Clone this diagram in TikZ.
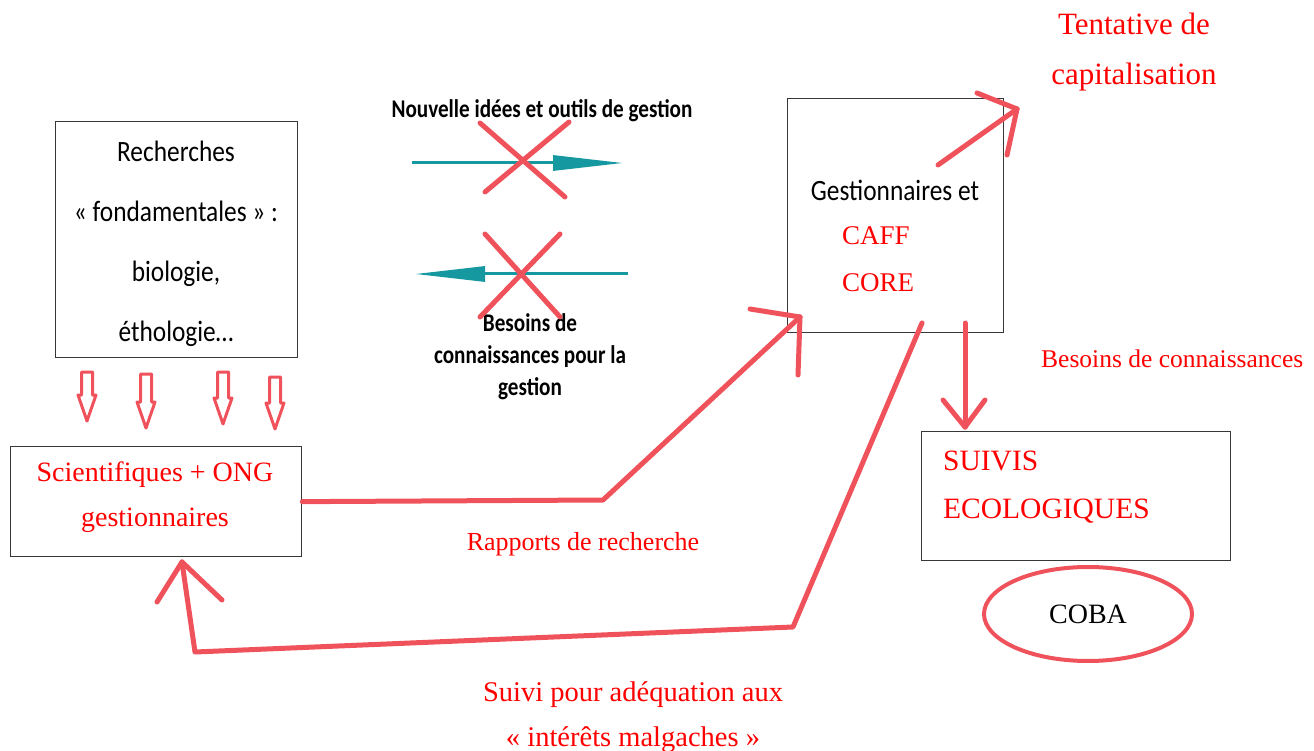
\documentclass[tikz,border=0pt]{standalone}
\usepackage{graphicx}
\usepackage{fontspec}
\setmainfont{Liberation Serif}
\newfontfamily\calibrifont{Carlito}
\usetikzlibrary{arrows.meta,shapes.geometric}
\definecolor{penred}{RGB}{240,82,92}
\definecolor{textred}{RGB}{255,0,0}
\definecolor{tealline}{RGB}{22,152,160}
\definecolor{boxline}{RGB}{55,55,55}
\newcommand{\fs}[1]{\fontsize{#1}{#1}\selectfont}
% narrow sans labels
\newcommand{\narrow}[1]{\scalebox{0.86}[1]{#1}}
\newcommand{\narrowb}[1]{\scalebox{0.83}[1]{#1}}
\tikzset{
  box/.style={draw=boxline, line width=1.3pt, inner sep=0pt, anchor=north west},
  pen/.style={draw=penred, line width=5pt, line cap=round, line join=round},
  thinpen/.style={draw=penred, line width=3pt, line join=round},
  redtxt/.style={text=textred, inner sep=0pt, anchor=base},
  blacktxt/.style={text=black, inner sep=0pt, anchor=base},
  tealarrow/.style={draw=tealline, line width=3pt, -{Triangle[length=70pt,width=15pt]}},
  hollowdown/.pic={
    \draw[thinpen] (-5.5,0) -- (5.5,0) -- (5.5,#1) -- (9,#1) -- (0,#1+26) -- (-9,#1) -- (-5.5,#1) -- cycle;
  },
}
\begin{document}
\begin{tikzpicture}[x=1pt,y=-1pt]
\useasboundingbox (0,0) rectangle (1314,751);

% boxes
\node[box, minimum width=242pt, minimum height=236pt] (rech) at (55,121) {};
\node[box, minimum width=216pt, minimum height=234pt] (gest) at (787,98) {};
\node[box, minimum width=291pt, minimum height=110pt] (sci) at (10,446) {};
\node[box, minimum width=309pt, minimum height=129pt] (suivi) at (921,431) {};

% box contents
\begin{scope}[every node/.style={blacktxt}, font=\calibrifont\fs{29.5}]
  \node (r1) at (176,162) {\narrow{Recherches}};
  \node (r2) at (176,222) {\narrow{« fondamentales » :}};
  \node (r3) at (176,282) {\narrow{biologie,}};
  \node (r4) at (176,341) {\narrow{éthologie…}};
  \node (g1) at (895,201) {\narrow{Gestionnaires et}};
\end{scope}
\node[redtxt, anchor=base west, font=\fs{27}] (caff) at (842,245) {CAFF};
\node[redtxt, anchor=base west, font=\fs{27}] (core) at (842,291) {CORE};
\node[redtxt, font=\fs{28}] (s1) at (155,481) {Scientifiques + ONG};
\node[redtxt, font=\fs{28}] (s2) at (155,526) {gestionnaires};
\node[redtxt, anchor=base west, font=\fs{29.5}] (e1) at (943,470) {SUIVIS};
\node[redtxt, anchor=base west, font=\fs{29.5}] (e2) at (943,518) {ECOLOGIQUES};

% COBA
\node[draw=penred, line width=4pt, ellipse, minimum width=208pt, minimum height=94pt, font=\fs{28}] (coba) at (1088,614) {COBA};

% free labels
\node[redtxt, font=\fs{31}] (t1) at (1134,35) {Tentative de};
\node[redtxt, font=\fs{31}] (t2) at (1134,85) {capitalisation};
\node[redtxt, anchor=base west, font=\fs{25.5}] (bc) at (1041,367) {Besoins de connaissances};
\node[redtxt, font=\fs{26}] (rr) at (583,550) {Rapports de recherche};
\node[redtxt, font=\fs{28.5}] (sp1) at (633,701) {Suivi pour adéquation aux};
\node[redtxt, font=\fs{28.5}] (sp2) at (633,746) {« intérêts malgaches »};

\begin{scope}[every node/.style={blacktxt}, font=\calibrifont\bfseries\fs{25.5}]
  \node (n1) at (542,118) {\narrowb{Nouvelle idées et outils de gestion}};
  \node (b1) at (530,331) {\narrowb{Besoins de}};
  \node (b2) at (530,363) {\narrowb{connaissances pour la}};
  \node (b3) at (530,395) {\narrowb{gestion}};
\end{scope}

% crossed-out teal arrows
\coordinate (ta1) at (412,163); \coordinate (ta2) at (623,163);
\coordinate (tb1) at (628,274); \coordinate (tb2) at (415,274);
\draw[tealarrow] (ta1) -- (ta2);
\draw[tealarrow] (tb1) -- (tb2);
\draw[pen] (480,123) -- (565,197);
\draw[pen] (569,122) -- (485,192);
\draw[pen] (485,234) -- (560,317);
\draw[pen] (560,234) -- (480,317);

% hollow down arrows
\pic at (87,372) {hollowdown=23};
\pic at (146,374) {hollowdown=28};
\pic at (223,372) {hollowdown=26};
\pic at (275,377) {hollowdown=26};

% research reports
\coordinate (k1) at (603,500);
\coordinate (tipA) at (800,317);
\draw[pen] (sci.east) -- (k1) -- (tipA);
\draw[pen] (tipA) -- (750,309);
\draw[pen] (tipA) -- (798,375);

% capitalisation
\coordinate (capS) at (938,165);
\coordinate (tipB) at (1017,109);
\draw[pen] (capS) -- (tipB);
\draw[pen] (tipB) -- (977,93);
\draw[pen] (tipB) -- (1007,155);

% feedback loop
\coordinate (fbS) at (922,323);
\coordinate (fb1) at (793,627);
\coordinate (fb2) at (195,652);
\coordinate (tipC) at (182,562);
\draw[pen] (fbS) -- (fb1) -- (fb2) -- (tipC);
\draw[pen] (tipC) -- (157,602);
\draw[pen] (tipC) -- (222,600);

% knowledge needs
\coordinate (knS) at (965,323);
\coordinate (tipD) at (965,427);
\draw[pen] (knS) -- (tipD);
\draw[pen] (tipD) -- (943,400);
\draw[pen] (tipD) -- (985,400);
\end{tikzpicture}
\end{document}
